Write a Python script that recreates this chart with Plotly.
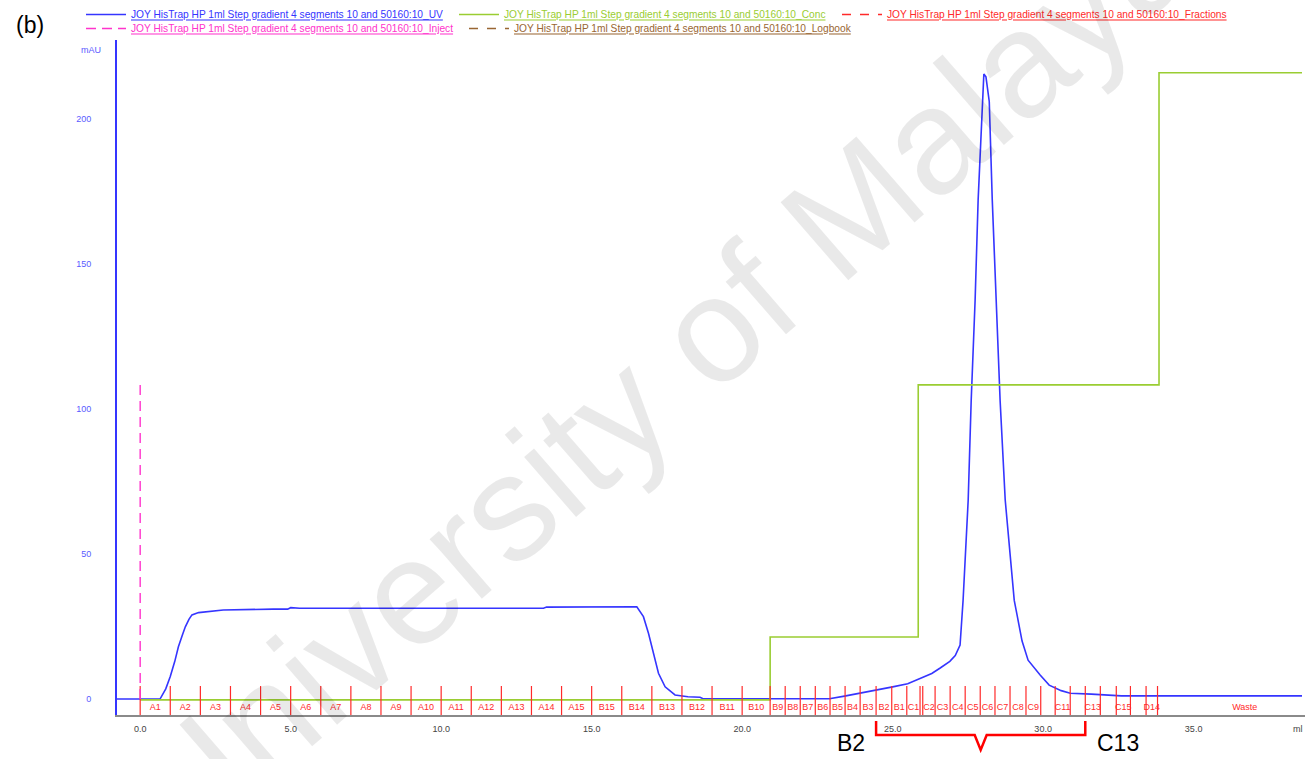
import plotly.graph_objects as go

# ---------------- data ----------------
uv_ml = [-0.77, 0.66, 0.85, 1.0, 1.15, 1.27, 1.4, 1.5, 1.62, 1.72, 1.94, 2.2, 2.76, 4.42, 4.9, 5.0, 5.3,
         13.4, 13.5, 16.5, 16.72, 16.89, 17.05, 17.22, 17.44, 17.77, 18.2, 18.6, 18.7, 22.9, 23.4,
         23.92, 24.5, 25.0, 25.5, 25.91, 26.3, 26.58, 26.9, 27.08, 27.24, 27.34, 27.51, 27.61, 27.74,
         27.84, 27.97, 28.03, 28.1, 28.21, 28.31, 28.44, 28.57, 28.74, 29.04, 29.3, 29.5, 29.9, 30.2,
         30.6, 30.9, 31.6, 32.6, 38.6]
uv_mau = [0.0, 0.0, 3.5, 7.8, 13.0, 18.0, 22.0, 24.9, 27.5, 29.0, 29.8, 30.1, 30.7, 31.0, 31.0, 31.5, 31.3,
          31.3, 31.7, 31.8, 28.4, 22.6, 15.8, 8.9, 4.2, 1.4, 0.8, 0.6, 0.1, 0.1, 1.0,
          2.0, 3.0, 4.2, 5.3, 7.2, 8.8, 10.7, 13.0, 15.0, 18.6, 34.0, 68.6, 103.0, 137.6,
          172.0, 206.0, 215.5, 214.5, 206.0, 172.0, 137.6, 103.0, 68.6, 34.0, 20.0, 13.4, 8.3, 4.8,
          2.9, 2.0, 1.7, 1.1, 1.1]

conc_ml = [0.0, 20.93, 25.85, 33.85, 38.6]
conc_val = [-0.3, 21.4, 108.3, 215.9, 215.9]

inject_ml = [0.0, 0.0]
inject_val = [0.0, 110.0]

frac_edges = [0, 1, 2, 3, 4, 5, 6, 7, 8, 9, 10, 11, 12, 13, 14, 15, 16, 17, 18, 19, 20,
              20.93, 21.43, 21.93, 22.43, 22.92, 23.42, 23.92, 24.45, 24.97, 25.47, 25.91, 26.0,
              26.41, 26.91, 27.41, 27.91, 28.4, 28.9, 29.43, 29.92, 30.4, 30.9, 31.4, 31.9, 32.43,
              32.9, 33.42, 33.8]
frac_labels = ["A1", "A2", "A3", "A4", "A5", "A6", "A7", "A8", "A9", "A10", "A11", "A12", "A13",
               "A14", "A15", "B15", "B14", "B13", "B12", "B11", "B10", "B9", "B8", "B7", "B6",
               "B5", "B4", "B3", "B2", "B1", "C1", "", "C2", "C3", "C4", "C5", "C6", "C7", "C8",
               "C9", "", "C11", "", "C13", "", "C15", "", "D14"]
waste_label = "Waste"
waste_label_x = 36.7

x_tickvals = [0, 5, 10, 15, 20, 25, 30, 35]
x_ticktext = ["0.0", "5.0", "10.0", "15.0", "20.0", "25.0", "30.0", "35.0"]
y_tickvals = [0, 50, 100, 150, 200]

bracket_from = "B2"
bracket_to = "C13"

run_name = "JOY HisTrap HP 1ml Step gradient 4 segments 10 and 50160:10"

# ---------------- styling ----------------
X0, X1 = -0.77, 38.7
Y0, Y1 = -5.5, 227.2
C_UV = "#3535ff"
C_CONC = "#9acd32"
C_FRAC = "#ff2a2a"
C_INJ = "#ff33cc"
C_LOG = "#996633"
FONT = "Liberation Sans, Arial, sans-serif"

W, H = 1310, 759
ML, MR, MT, MB = 117, 5, 40, 44
PW, PH = W - ML - MR, H - MT - MB


def xp(v):
    return (v - X0) / (X1 - X0)


def px_x(px):
    return (px - ML) / PW


def py_px(px):
    return (H - MB - px) / PH


def legname(suffix, color):
    return ('<span style="color:%s;text-decoration:underline">%s_%s</span>'
            % (color, run_name, suffix))


fig = go.Figure()

fig.add_trace(go.Scatter(x=uv_ml, y=uv_mau, mode="lines", line=dict(color=C_UV, width=1.6),
                         name=legname("UV", C_UV), legend="legend"))
fig.add_trace(go.Scatter(x=conc_ml, y=conc_val, mode="lines", line=dict(color=C_CONC, width=1.6, shape="hv"),
                         name=legname("Conc", C_CONC), legend="legend2"))

# fraction ticks
fx, fy = [], []
for e in frac_edges:
    fx += [e, e, None]
    fy += [4.5, Y0, None]
fig.add_trace(go.Scatter(x=fx, y=fy, mode="lines", line=dict(color=C_FRAC, width=1.2),
                         showlegend=False, hoverinfo="skip"))
centers = [(frac_edges[i] + frac_edges[i + 1]) / 2 for i in range(len(frac_labels))]
fig.add_trace(go.Scatter(x=centers + [waste_label_x], y=[-3.0] * (len(centers) + 1), mode="text",
                         text=frac_labels + [waste_label],
                         textfont=dict(color=C_FRAC, size=9, family=FONT),
                         showlegend=False, hoverinfo="skip"))
fig.add_trace(go.Scatter(x=[None], y=[None], mode="lines", line=dict(color=C_FRAC, width=1.6, dash="dash"),
                         name=legname("Fractions", C_FRAC), legend="legend3"))

fig.add_trace(go.Scatter(x=inject_ml, y=inject_val, mode="lines",
                         line=dict(color=C_INJ, width=1.4, dash="10px,6px"),
                         name=legname("Inject", C_INJ), legend="legend4"))
fig.add_trace(go.Scatter(x=[None], y=[None], mode="lines", line=dict(color=C_LOG, width=1.6, dash="dash"),
                         name=legname("Logbook", C_LOG), legend="legend5"))


def leg(left_px, top_px):
    return dict(orientation="v", x=px_x(left_px), y=py_px(top_px), xanchor="left", yanchor="top",
                itemwidth=40, font=dict(size=10.2, family=FONT), bgcolor="rgba(0,0,0,0)",
                itemclick=False, itemdoubleclick=False)


fig.update_layout(
    width=W, height=H,
    margin=dict(l=ML, r=MR, t=MT, b=MB, autoexpand=False),
    plot_bgcolor="white", paper_bgcolor="white",
    font=dict(family=FONT, size=10, color="#333333"),
    showlegend=True,
    legend=leg(81, 0), legend2=leg(454, 0), legend3=leg(837, 0),
    legend4=leg(81, 14), legend5=leg(464, 14),
    xaxis=dict(range=[X0, X1], showgrid=False, zeroline=False, showline=True, linecolor="#8a8a8a",
               linewidth=2, tickvals=x_tickvals, ticktext=x_ticktext, ticks="",
               tickfont=dict(size=9, color="#444444"), ticklabelstandoff=4),
    yaxis=dict(range=[Y0, Y1], showgrid=False, zeroline=False, showline=True, linecolor=C_UV,
               linewidth=2, tickvals=y_tickvals, ticks="", tickfont=dict(size=9, color="#5a5aff"),
               ticklabelstandoff=22),
)


def note(text, xpaper, ypaper, size, color, xanchor="center"):
    return dict(text=text, xref="paper", yref="paper", x=xpaper, y=ypaper, showarrow=False,
                xanchor=xanchor, yanchor="middle", font=dict(size=size, color=color, family=FONT))


ann = [
    note("(b)", px_x(30), py_px(25), 23, "black"),
    note("mAU", px_x(91), py_px(50), 9, "#5a5aff"),
    note("ml", 1.0, py_px(729), 9, "#444444", xanchor="right"),
]

i_from = frac_labels.index(bracket_from)
i_to = frac_labels.index(bracket_to)
bx0 = xp(frac_edges[i_from])
bx1 = xp(frac_edges[i_to])
bxc = (bx0 + bx1) / 2
ann.append(note(bracket_from, bx0 - 25 / PW, py_px(743), 23, "black"))
ann.append(note(bracket_to, bx1 + 33 / PW, py_px(743), 23, "black"))

# watermark
wm = note("University of Malaya", px_x(660), py_px(375), 150, "rgba(0,0,0,0.085)")
wm["textangle"] = -41
ann.append(wm)
fig.update_layout(annotations=ann)

ya, yb, yc = py_px(721), py_px(735), py_px(750)
dx = 6 / PW
path = ("M %f %f L %f %f L %f %f L %f %f L %f %f L %f %f L %f %f"
        % (bx0, ya, bx0, yb, bxc - dx, yb, bxc, yc, bxc + dx, yb, bx1, yb, bx1, ya))
fig.add_shape(type="path", path=path, xref="paper", yref="paper",
              line=dict(color="red", width=2.5))

fig.write_html("out.html", config={"displayModeBar": False},
               post_script="document.body.style.margin='0px';")
